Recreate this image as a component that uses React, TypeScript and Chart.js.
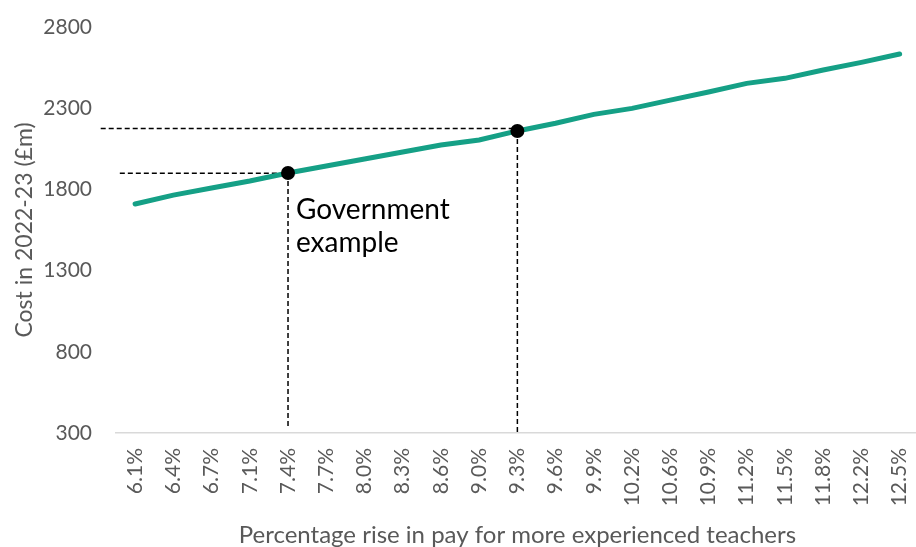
import React, { useEffect, useRef } from "react";
import { Chart, registerables } from "chart.js";

Chart.register(...registerables);

const labels = ["6.1%", "6.4%", "6.7%", "7.1%", "7.4%", "7.7%", "8.0%", "8.3%", "8.6%", "9.0%", "9.3%", "9.6%", "9.9%", "10.2%", "10.6%", "10.9%", "11.2%", "11.5%", "11.8%", "12.2%", "12.5%"];
const costs = [1710, 1765, 1809, 1852, 1901, 1944, 1987, 2030, 2073, 2104, 2160, 2207, 2262, 2299, 2350, 2400, 2453, 2484, 2535, 2582, 2634];
const highlightLabels = ["7.4%", "9.3%"];
const refLevels = [1900, 2175];
const refStartIndex = [-0.4, -0.9];
const refBottom = [330, 300];
const annotationLines = ["Government", "example"];
const yTicks = [300, 800, 1300, 1800, 2300, 2800];

const FONT = "Lato, 'Open Sans', sans-serif";
const GREY = "#595959";

const refPlugin = {
  id: "refLines",
  beforeDatasetsDraw(chart: any) {
    const { ctx, scales } = chart;
    const xs = scales.x;
    const ys = scales.y;
    ctx.save();
    ctx.strokeStyle = "#000";
    ctx.lineWidth = 1.5;
    ctx.setLineDash([5, 3]);
    highlightLabels.forEach((lab, i) => {
      const idx = labels.indexOf(lab);
      const px = xs.getPixelForValue(idx);
      const pxStart = xs.getPixelForValue(refStartIndex[i]);
      const py = ys.getPixelForValue(refLevels[i]);
      const pyPoint = ys.getPixelForValue(costs[idx]);
      const pyBottom = ys.getPixelForValue(refBottom[i]);
      ctx.beginPath();
      ctx.moveTo(pxStart, py);
      ctx.lineTo(px, py);
      ctx.stroke();
      ctx.beginPath();
      ctx.moveTo(px, pyPoint);
      ctx.lineTo(px, pyBottom);
      ctx.stroke();
    });
    ctx.restore();
  },
  afterDatasetsDraw(chart: any) {
    const { ctx, scales } = chart;
    const idx = labels.indexOf(highlightLabels[0]);
    const px = scales.x.getPixelForValue(idx);
    const py = scales.y.getPixelForValue(costs[idx]);
    ctx.save();
    ctx.fillStyle = "#000";
    ctx.font = `28px ${FONT}`;
    ctx.textAlign = "left";
    ctx.textBaseline = "alphabetic";
    annotationLines.forEach((t, i) => {
      ctx.fillText(t, px + 8, py + 46 + i * 33);
    });
    ctx.restore();
  },
};

export default function App() {
  const ref = useRef<HTMLCanvasElement>(null);
  useEffect(() => {
    if (!ref.current) return;
    const chart = new Chart(ref.current, {
      type: "line",
      data: {
        labels,
        datasets: [
          {
            data: costs,
            borderColor: "#15a086",
            borderWidth: 5,
            borderCapStyle: "round",
            tension: 0,
            pointRadius: 0,
            order: 2,
          },
          {
            data: costs.map((v, i) => (highlightLabels.includes(labels[i]) ? v : null)),
            showLine: false,
            pointRadius: 7,
            pointBackgroundColor: "#000",
            pointBorderColor: "#000",
            pointBorderWidth: 0,
            order: 1,
          },
        ],
      },
      options: {
        animation: false,
        responsive: false,
        layout: { padding: { top: 27, right: 2, left: 0, bottom: 0 } },
        plugins: { legend: { display: false }, tooltip: { enabled: false } },
        scales: {
          x: {
            offset: true,
            grid: { display: false, drawTicks: false },
            border: { display: true, color: "#d9d9d9", width: 1.5 },
            ticks: {
              minRotation: 90,
              maxRotation: 90,
              autoSkip: false,
              padding: 15,
              color: GREY,
              font: { family: FONT, size: 21 },
            },
            title: {
              display: true,
              text: "Percentage rise in pay for more experienced teachers",
              color: GREY,
              font: { family: FONT, size: 24, lineHeight: 1 },
              padding: { top: 0, bottom: 0 },
            },
            afterFit(scale: any) {
              scale.height = 114;
            },
          },
          y: {
            min: 300,
            max: 2800,
            afterBuildTicks(scale: any) {
              scale.ticks = yTicks.map((v) => ({ value: v }));
            },
            grid: { display: false, drawTicks: true, tickLength: 24 },
            border: { display: false },
            ticks: {
              padding: 0,
              color: GREY,
              font: { family: FONT, size: 21 },
              callback: (v: any) => String(v),
            },
            title: {
              display: true,
              text: "Cost in 2022-23 (£m)",
              color: GREY,
              font: { family: FONT, size: 23, lineHeight: 1.2 },
              padding: { top: 11, bottom: 0 },
            },
            afterFit(scale: any) {
              scale.width = 116;
            },
          },
        },
      },
      plugins: [refPlugin],
    });
    return () => chart.destroy();
  }, []);
  return (
    <div style={{ position: "fixed", left: 0, top: 0, width: 916, height: 547, overflow: "hidden", background: "#fff" }}>
      <canvas ref={ref} width={940} height={547} style={{ display: "block" }} />
    </div>
  );
}
